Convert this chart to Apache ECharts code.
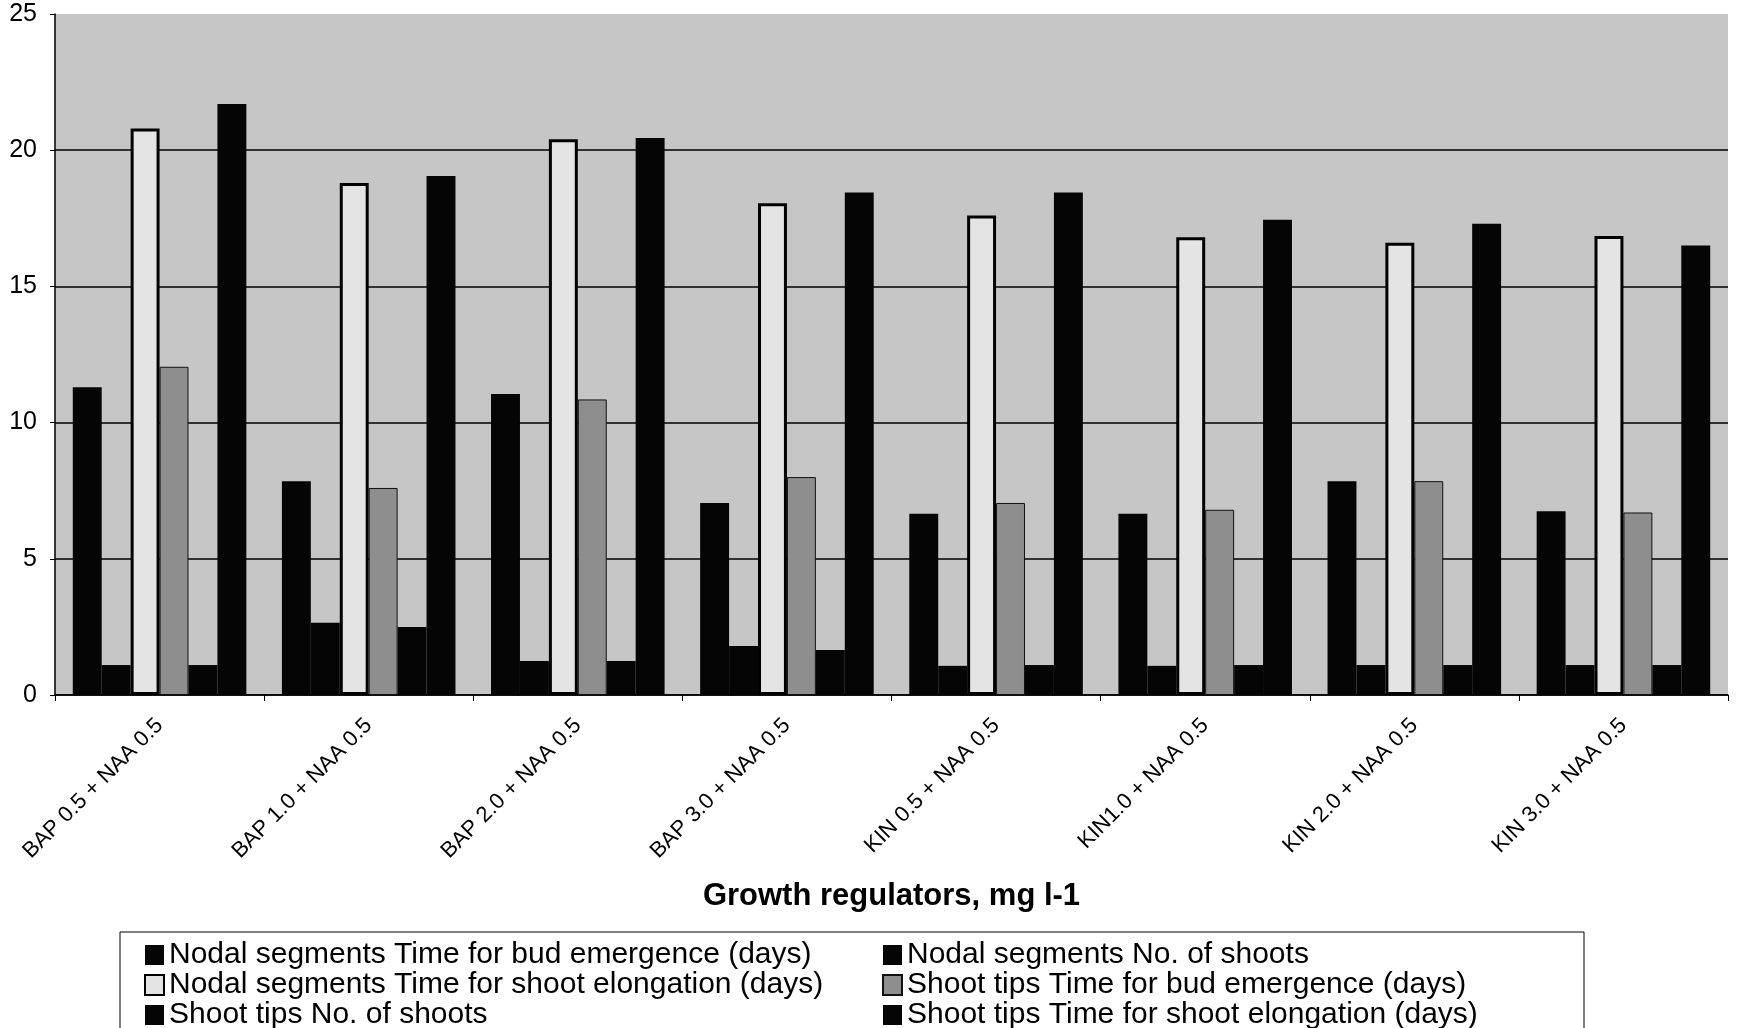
<!DOCTYPE html>
<html>
<head>
<meta charset="utf-8">
<title>Growth regulators</title>
<script src="https://cdn.jsdelivr.net/npm/echarts@6/dist/echarts.min.js"></script>
<style>
  html, body { margin: 0; padding: 0; background: #fff; }
  #chart { width: 1739px; height: 1028px; }
</style>
</head>
<body>
<div id="chart"></div>
<script>
var categories = ['BAP 0.5 + NAA 0.5', 'BAP 1.0 + NAA 0.5', 'BAP 2.0 + NAA 0.5', 'BAP 3.0 + NAA 0.5',
                  'KIN 0.5 + NAA 0.5', 'KIN1.0 + NAA 0.5', 'KIN 2.0 + NAA 0.5', 'KIN 3.0 + NAA 0.5'];

var nodalBudDays     = [11.3, 7.85, 11.05, 7.05, 6.65, 6.65, 7.85, 6.75];
var nodalShoots      = [1.1, 2.65, 1.25, 1.8, 1.07, 1.07, 1.1, 1.1];
var nodalElongDays   = [20.8, 18.8, 20.4, 18.05, 17.6, 16.8, 16.6, 16.85];
var tipsBudDays      = [12.05, 7.6, 10.85, 8.0, 7.05, 6.8, 7.85, 6.7];
var tipsShoots       = [1.1, 2.5, 1.25, 1.65, 1.1, 1.1, 1.1, 1.1];
var tipsElongDays    = [21.7, 19.05, 20.45, 18.45, 18.45, 17.45, 17.3, 16.5];

var yTicks = [0, 5, 10, 15, 20, 25];

var names = [
    'Nodal segments Time for bud emergence (days)',
    'Nodal segments No. of shoots',
    'Nodal segments Time for shoot elongation (days)',
    'Shoot tips Time for bud emergence (days)',
    'Shoot tips No. of shoots',
    'Shoot tips Time for shoot elongation (days)'
];

var font = 'Liberation Sans, Arial, sans-serif';

function bar(name, data, fill, border, bw) {
    return {
        name: name,
        type: 'bar',
        data: data,
        barGap: '0%',
        barCategoryGap: '17%',
        itemStyle: { color: fill, borderColor: border, borderWidth: bw },
        emphasis: { disabled: true }
    };
}

// legend box: left column carries the border, right column sits inside it
var legendText = { fontFamily: font, fontSize: 30, color: '#000', lineHeight: 29 };

var myChart = echarts.init(document.getElementById('chart'));
myChart.setOption({
    backgroundColor: '#fff',
    animation: false,
    grid: {
        left: 55, right: 11, top: 14, bottom: 333,
        show: true, backgroundColor: '#c6c6c6', borderWidth: 0
    },
    legend: [{
        orient: 'vertical',
        left: 120, top: 932,
        height: 110,
        padding: [8, 10, 8, 24],
        itemGap: 0,
        itemWidth: 19, itemHeight: 20,
        borderColor: '#000', borderWidth: 1,
        icon: 'rect',
        data: [names[0], names[2], names[4]],
        textStyle: Object.assign({ width: 1405 }, legendText)
    }, {
        orient: 'vertical',
        left: 858, top: 932,
        height: 110,
        padding: [8, 10, 8, 24],
        itemGap: 0,
        itemWidth: 19, itemHeight: 20,
        borderWidth: 0,
        icon: 'rect',
        data: [names[1], names[3], names[5]],
        textStyle: legendText
    }],
    xAxis: {
        type: 'category',
        data: categories,
        name: 'Growth regulators, mg l-1',
        nameLocation: 'middle',
        nameGap: 186,
        nameTextStyle: { fontFamily: font, fontSize: 31, fontWeight: 'bold', color: '#000' },
        axisLine: { lineStyle: { color: '#000', width: 1.5 } },
        axisTick: { show: true, length: 6, lineStyle: { color: '#000' } },
        axisLabel: { rotate: 45, margin: 27, fontFamily: font, fontSize: 22, color: '#000', interval: 0 }
    },
    yAxis: {
        type: 'value',
        min: yTicks[0],
        max: yTicks[yTicks.length - 1],
        interval: 5,
        axisLine: { show: true, lineStyle: { color: '#000', width: 1.5 } },
        axisTick: { show: true, length: 5, lineStyle: { color: '#000' } },
        axisLabel: { margin: 18, fontFamily: font, fontSize: 25, color: '#000' },
        splitLine: { show: true, showMaxLine: false, lineStyle: { color: '#000', width: 1.5 } }
    },
    series: [
        bar(names[0], nodalBudDays, '#050505', '#000', 0),
        bar(names[1], nodalShoots, '#050505', '#000', 0),
        bar(names[2], nodalElongDays, '#e4e4e4', '#000', 3),
        bar(names[3], tipsBudDays, '#8e8e8e', '#111', 1),
        bar(names[4], tipsShoots, '#050505', '#000', 0),
        bar(names[5], tipsElongDays, '#050505', '#000', 0)
    ]
});
</script>
</body>
</html>
